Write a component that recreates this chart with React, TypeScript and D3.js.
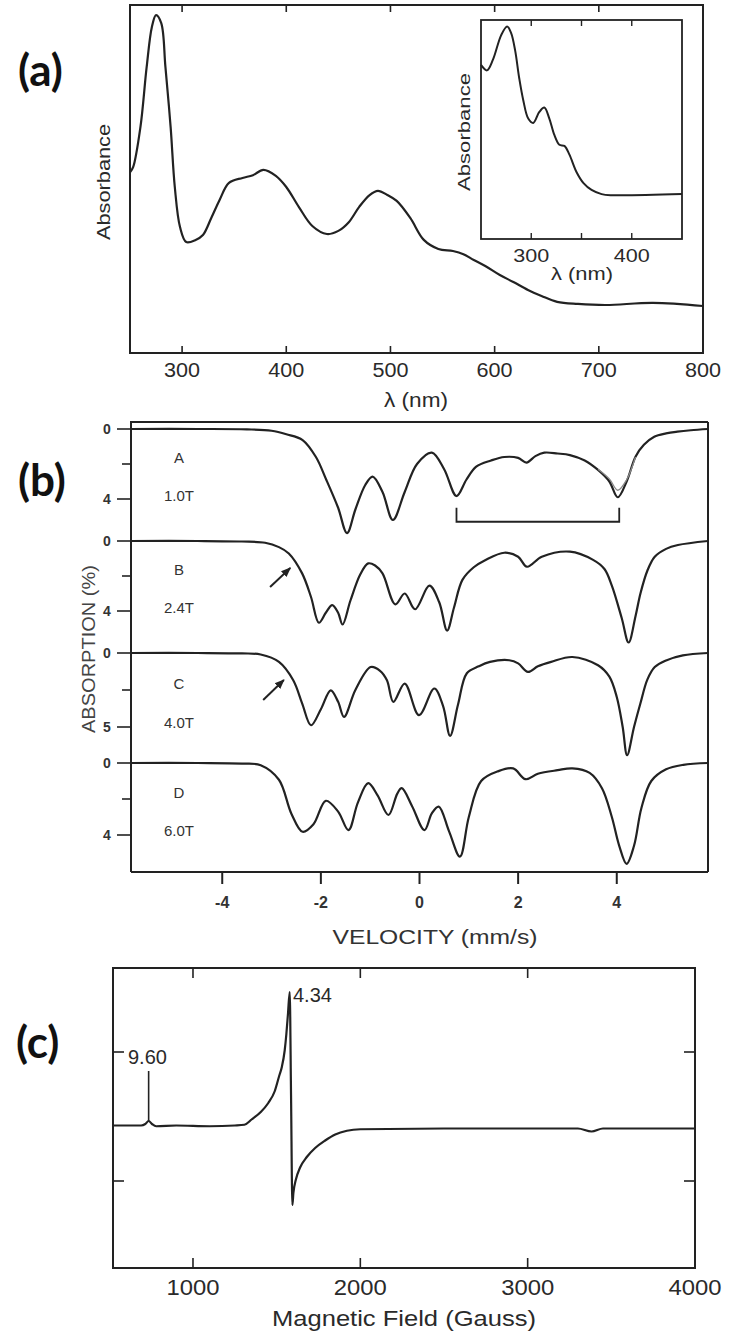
import * as d3 from "d3";

// ---- (a) UV-vis spectrum
const uvWl = [250, 253, 260, 266, 271, 275, 280, 284, 289, 293, 298, 304, 313, 320, 328, 336, 345, 358, 368, 378, 390, 400, 412, 425, 439, 450, 460, 470, 480, 488, 497, 506, 519, 532, 546, 560, 570, 580, 591, 605, 618, 632, 645, 660, 680, 707, 752, 800];
const uvAbs = [0.519, 0.534, 0.649, 0.822, 0.937, 0.971, 0.948, 0.822, 0.649, 0.477, 0.362, 0.319, 0.325, 0.339, 0.388, 0.44, 0.489, 0.503, 0.511, 0.526, 0.509, 0.477, 0.42, 0.365, 0.342, 0.351, 0.376, 0.42, 0.454, 0.466, 0.454, 0.437, 0.388, 0.325, 0.299, 0.293, 0.284, 0.267, 0.25, 0.224, 0.204, 0.181, 0.164, 0.147, 0.141, 0.138, 0.144, 0.135];
const uvTicks = [300, 400, 500, 600, 700, 800];

// inset
const insetWl = [250, 256, 262, 270, 276, 280, 284, 288, 292, 297, 302, 308, 313, 318, 323, 328, 333, 338, 345, 352, 360, 370, 380, 450];
const insetAbs = [0.795, 0.77, 0.82, 0.93, 0.97, 0.94, 0.86, 0.735, 0.635, 0.55, 0.53, 0.58, 0.6, 0.55, 0.475, 0.43, 0.425, 0.385, 0.306, 0.255, 0.224, 0.205, 0.2, 0.205];
const insetTicks = [300, 350, 400];
const insetLabels = [300, 400];

// ---- (b) Mossbauer spectra
const velA = [-5.85, -4.5, -3.5, -3.0, -2.7, -2.37, -2.1, -1.89, -1.65, -1.47, -1.3, -1.1, -0.95, -0.75, -0.54, -0.3, -0.05, 0.25, 0.5, 0.75, 0.95, 1.15, 1.45, 1.72, 2.0, 2.17, 2.35, 2.53, 2.8, 3.05, 3.35, 3.62, 3.85, 4.02, 4.2, 4.38, 4.55, 4.76, 5.0, 5.23, 5.5, 5.85];
const absA = [0, 0, 0.02, 0.1, 0.3, 0.63, 1.6, 2.9, 4.5, 5.95, 4.6, 3.2, 2.72, 3.6, 5.2, 3.6, 2.0, 1.35, 2.3, 3.83, 2.9, 2.15, 1.8, 1.6, 1.65, 1.92, 1.55, 1.35, 1.4, 1.49, 1.8, 2.34, 3.0, 3.9, 3.0, 1.58, 0.9, 0.44, 0.25, 0.15, 0.07, 0];
// fitted curve of A where it parts from the data
const fitVelA = [3.62, 3.85, 4.02, 4.2, 4.38];
const fitAbsA = [2.3, 2.85, 3.5, 2.9, 1.6];
const velB = [-5.85, -4.5, -3.6, -3.13, -2.85, -2.65, -2.38, -2.2, -2.04, -1.9, -1.77, -1.65, -1.56, -1.4, -1.2, -1.04, -0.9, -0.75, -0.49, -0.3, -0.09, 0.2, 0.4, 0.56, 0.7, 0.87, 1.1, 1.34, 1.72, 2.0, 2.18, 2.48, 3.05, 3.52, 3.75, 3.9, 4.1, 4.24, 4.38, 4.48, 4.62, 4.77, 5.0, 5.24, 5.85];
const absB = [0, 0, 0.03, 0.1, 0.35, 0.71, 1.85, 3.2, 4.67, 4.1, 3.66, 4.1, 4.77, 3.4, 1.9, 1.28, 1.4, 1.85, 3.62, 3.0, 3.9, 2.55, 3.5, 5.12, 3.8, 2.22, 1.5, 1.08, 0.67, 0.9, 1.47, 0.9, 0.61, 1.08, 1.6, 2.55, 4.4, 5.8, 4.3, 3.0, 1.7, 0.9, 0.45, 0.23, 0];
const velC = [-5.85, -4.5, -3.6, -3.22, -2.85, -2.56, -2.38, -2.2, -2.0, -1.8, -1.65, -1.53, -1.3, -0.99, -0.8, -0.66, -0.53, -0.3, -0.01, 0.3, 0.48, 0.62, 0.78, 0.96, 1.2, 1.43, 1.82, 2.0, 2.2, 2.4, 2.67, 3.1, 3.62, 3.85, 4.0, 4.12, 4.21, 4.35, 4.48, 4.62, 4.77, 5.0, 5.34, 5.85];
const absC = [0, 0, 0.03, 0.1, 0.6, 1.84, 3.4, 4.88, 3.8, 2.52, 3.3, 4.32, 2.5, 0.95, 1.2, 1.84, 3.3, 2.07, 4.2, 2.4, 3.6, 5.6, 3.5, 1.37, 0.9, 0.6, 0.49, 0.7, 1.28, 0.9, 0.6, 0.27, 0.83, 1.6, 2.97, 5.0, 6.9, 5.0, 3.4, 1.8, 0.95, 0.5, 0.16, 0];
const velD = [-5.85, -4.5, -3.6, -3.22, -2.85, -2.6, -2.37, -2.15, -1.9, -1.65, -1.44, -1.25, -1.04, -0.85, -0.63, -0.45, -0.36, -0.15, 0.1, 0.25, 0.39, 0.6, 0.82, 1.0, 1.25, 1.6, 1.9, 2.15, 2.4, 2.8, 3.1, 3.45, 3.7, 3.9, 4.05, 4.2, 4.35, 4.5, 4.7, 5.0, 5.35, 5.85];
const absD = [0, 0, 0.03, 0.12, 0.93, 2.8, 3.82, 3.4, 2.1, 2.7, 3.73, 2.2, 1.12, 1.8, 2.89, 1.7, 1.4, 2.4, 3.73, 2.8, 2.42, 3.8, 5.2, 3.0, 1.0, 0.45, 0.3, 0.9, 0.6, 0.4, 0.3, 0.55, 1.4, 3.0, 4.6, 5.6, 4.6, 2.5, 1.0, 0.35, 0.1, 0];
const spectraNames = ["A", "B", "C", "D"];
const spectraFields = ["1.0T", "2.4T", "4.0T", "6.0T"];
const spectraMax = [4, 4, 5, 4];
const velTicks = [-4, -2, 0, 2, 4];

// ---- (c) EPR
const eprField = [522, 600, 690, 715, 735, 755, 780, 900, 1100, 1250, 1307, 1350, 1405, 1450, 1489, 1515, 1531, 1548, 1558, 1568, 1578, 1586, 1594, 1600, 1615, 1640, 1680, 1730, 1790, 1850, 1920, 2000, 2500, 3000, 3300, 3382, 3450, 4000];
const eprSignal = [0, 0, 0, 0.01, 0.03, 0.01, -0.005, 0, -0.005, 0, 0.005, 0.04, 0.09, 0.15, 0.23, 0.33, 0.39, 0.5, 0.61, 0.75, 0.89, 0.2, -0.53, -0.45, -0.36, -0.28, -0.21, -0.15, -0.1, -0.06, -0.035, -0.025, -0.02, -0.02, -0.02, -0.04, -0.02, -0.02];
const eprTicks = [1000, 2000, 3000, 4000];
const eprSideTicks = [0.49, -0.37];

const INK = "#222";
const TXT = "#2a2a2a";
const SANS = "'Liberation Sans', Arial, sans-serif";
const PANEL = "Lato, 'Open Sans', sans-serif";

export default function App() {
    const width = 730;
    const height = 1335;

    // (a)
    const ax = d3.scaleLinear().domain([250, 800]).range([130, 703]);
    const ay = d3.scaleLinear().domain([0, 1]).range([353, 5]);
    const uvLine = d3.line<number>()
        .x((_d, i) => ax(uvWl[i]))
        .y(d => ay(d))
        .curve(d3.curveCatmullRom.alpha(0.5));

    const ix = d3.scaleLinear().domain([250, 450]).range([481, 682]);
    const iy = d3.scaleLinear().domain([0, 1]).range([239, 20]);
    const insetLine = d3.line<number>()
        .x((_d, i) => ix(insetWl[i]))
        .y(d => iy(d))
        .curve(d3.curveCatmullRom.alpha(0.5));

    // (b)
    const mx = d3.scaleLinear().domain([-5.85, 5.85]).range([131, 708]);
    const my = [
        d3.scaleLinear().domain([0, 4]).range([429, 499]),
        d3.scaleLinear().domain([0, 4]).range([541, 611]),
        d3.scaleLinear().domain([0, 5]).range([653, 727]),
        d3.scaleLinear().domain([0, 4]).range([763, 835]),
    ];
    const vels = [velA, velB, velC, velD];
    const abss = [absA, absB, absC, absD];
    const mLines = abss.map((a, k) =>
        d3.line<number>()
            .x((_d, i) => mx(vels[k][i]))
            .y(d => my[k](d))
            .curve(d3.curveCatmullRom.alpha(0.5))(a)
    );
    const fitLine = d3.line<number>()
        .x((_d, i) => mx(fitVelA[i]))
        .y(d => my[0](d))
        .curve(d3.curveCatmullRom.alpha(0.5))(fitAbsA);

    // (c)
    const ex = d3.scaleLinear().domain([522, 4000]).range([113, 695]);
    const ey = d3.scaleLinear().domain([-0.95, 1.05]).range([1268, 968]);
    const eprLine = d3.line<number>()
        .x((_d, i) => ex(eprField[i]))
        .y(d => ey(d))
        .curve(d3.curveMonotoneX);

    return (
        <svg width={width} height={height} style={{ position: "absolute", left: 0, top: 0, background: "#fff" }}>
            <defs>
                <marker id="arr" viewBox="0 0 10 10" refX="9" refY="5" markerWidth="5" markerHeight="5" orient="auto">
                    <path d="M0,1 L10,5 L0,9 Z" fill={INK} />
                </marker>
            </defs>

            {/* panel labels */}
            <g fontFamily={PANEL} fontWeight={700} fontSize={44} fill="#111">
                <text x={18} y={86}>(a)</text>
                <text x={18} y={496}>(b)</text>
                <text x={16} y={1058}>(c)</text>
            </g>

            {/* ---------- (a) ---------- */}
            <rect x={130} y={5} width={573} height={348} fill="none" stroke={INK} strokeWidth={2} />
            {uvTicks.slice(0, -1).map(t => (
                <g key={t} stroke={INK} strokeWidth={1.6}>
                    <line x1={ax(t)} x2={ax(t)} y1={353} y2={346} />
                    <line x1={ax(t)} x2={ax(t)} y1={5} y2={12} />
                </g>
            ))}
            <g fontFamily={SANS} fontSize={20} fill={TXT} textAnchor="middle">
                {uvTicks.map(t => (
                    <text key={t} x={ax(t)} y={377} textLength={36} lengthAdjust="spacingAndGlyphs">{t}</text>
                ))}
                <text x={416} y={407} textLength={64} lengthAdjust="spacingAndGlyphs">λ (nm)</text>
                <text transform={`translate(110,182) rotate(-90)`} fontSize={18} textLength={116} lengthAdjust="spacingAndGlyphs">Absorbance</text>
            </g>
            <path d={uvLine(uvAbs) ?? ""} fill="none" stroke={INK} strokeWidth={2.2} />

            {/* inset */}
            <rect x={481} y={20} width={201} height={219} fill="#fff" stroke={INK} strokeWidth={1.8} />
            {insetTicks.map(t => (
                <g key={t} stroke={INK} strokeWidth={1.4}>
                    <line x1={ix(t)} x2={ix(t)} y1={239} y2={233} />
                    <line x1={ix(t)} x2={ix(t)} y1={20} y2={26} />
                </g>
            ))}
            <g fontFamily={SANS} fontSize={19} fill={TXT} textAnchor="middle">
                {insetLabels.map(t => (
                    <text key={t} x={ix(t)} y={262} textLength={36} lengthAdjust="spacingAndGlyphs">{t}</text>
                ))}
                <text x={582} y={280} fontSize={18} textLength={62} lengthAdjust="spacingAndGlyphs">λ (nm)</text>
                <text transform={`translate(470,132) rotate(-90)`} fontSize={17} textLength={118} lengthAdjust="spacingAndGlyphs">Absorbance</text>
            </g>
            <path d={insetLine(insetAbs) ?? ""} fill="none" stroke={INK} strokeWidth={2} />

            {/* ---------- (b) ---------- */}
            <line x1={130} x2={708} y1={422} y2={422} stroke={INK} strokeWidth={2.2} />
            <line x1={131} x2={131} y1={422} y2={872} stroke={INK} strokeWidth={2} />
            <line x1={708} x2={708} y1={422} y2={872} stroke={INK} strokeWidth={2} />
            <line x1={131} x2={708} y1={872} y2={872} stroke={INK} strokeWidth={2} />
            {velTicks.map(t => (
                <line key={t} x1={mx(t)} x2={mx(t)} y1={872} y2={884} stroke={INK} strokeWidth={2} />
            ))}
            <g fontFamily={SANS} fontSize={16} fontWeight={700} fill="#333" textAnchor="middle">
                {velTicks.map(t => (
                    <text key={t} x={mx(t)} y={908}>{t}</text>
                ))}
            </g>
            {my.map((s, k) => (
                <g key={k}>
                    {[0, spectraMax[k] / 2, spectraMax[k]].map((t, j) => (
                        <line key={j} x1={j === 1 ? 122 : 117} x2={131} y1={s(t)} y2={s(t)} stroke={INK} strokeWidth={1.6} />
                    ))}
                    {[0, spectraMax[k]].map(t => (
                        <text key={t} x={107} y={s(t) + 5} fontFamily={SANS} fontSize={14} fontWeight={700} fill="#333" textAnchor="middle">{t}</text>
                    ))}
                    <text x={179} y={s(spectraMax[k] * 0.4) + 6} fontFamily={SANS} fontSize={15} fill="#333" textAnchor="middle">{spectraNames[k]}</text>
                    <text x={179} y={s(spectraMax[k] * 0.95) + 5} fontFamily={SANS} fontSize={15} fill="#333" textAnchor="middle">{spectraFields[k]}</text>
                    <path d={mLines[k] ?? ""} fill="none" stroke={INK} strokeWidth={2.2} />
                </g>
            ))}
            <path d={fitLine ?? ""} fill="none" stroke="#888" strokeWidth={1.3} />
            {/* bracket under A */}
            <path
                d={`M${mx(0.75)},${my[0](4.5)} V${my[0](5.3)} H${mx(4.05)} V${my[0](4.5)}`}
                fill="none" stroke={INK} strokeWidth={1.8}
            />
            {/* arrows B, C */}
            <line x1={mx(-3.03)} y1={my[1](2.63)} x2={mx(-2.62)} y2={my[1](1.54)} stroke={INK} strokeWidth={2} markerEnd="url(#arr)" />
            <line x1={mx(-3.17)} y1={my[2](3.18)} x2={mx(-2.75)} y2={my[2](1.82)} stroke={INK} strokeWidth={2} markerEnd="url(#arr)" />
            <text transform={`translate(95,649) rotate(-90)`} fontFamily={SANS} fontSize={19} fill="#444" textAnchor="middle" textLength={168} lengthAdjust="spacingAndGlyphs">ABSORPTION (%)</text>
            <text x={435} y={944} fontFamily={SANS} fontSize={21} fill="#333" textAnchor="middle" textLength={205} lengthAdjust="spacingAndGlyphs">VELOCITY (mm/s)</text>

            {/* ---------- (c) ---------- */}
            <rect x={113} y={968} width={582} height={300} fill="none" stroke={INK} strokeWidth={2} />
            {eprTicks.slice(0, -1).map(t => (
                <g key={t} stroke={INK} strokeWidth={1.6}>
                    <line x1={ex(t)} x2={ex(t)} y1={1268} y2={1258} />
                    <line x1={ex(t)} x2={ex(t)} y1={968} y2={978} />
                </g>
            ))}
            {eprSideTicks.map(t => (
                <g key={t} stroke={INK} strokeWidth={1.6}>
                    <line x1={113} x2={124} y1={ey(t)} y2={ey(t)} />
                    <line x1={695} x2={684} y1={ey(t)} y2={ey(t)} />
                </g>
            ))}
            <g fontFamily={SANS} fontSize={22} fill={TXT} textAnchor="middle">
                {eprTicks.map(t => (
                    <text key={t} x={ex(t)} y={1295} textLength={53} lengthAdjust="spacingAndGlyphs">{t}</text>
                ))}
                <text x={404} y={1326} textLength={264} lengthAdjust="spacingAndGlyphs">Magnetic Field (Gauss)</text>
            </g>
            <path d={eprLine(eprSignal) ?? ""} fill="none" stroke={INK} strokeWidth={2.2} />
            <line x1={ex(735)} x2={ex(735)} y1={1071} y2={ey(0.03)} stroke={INK} strokeWidth={1.6} />
            <g fontFamily={SANS} fontSize={20} fill={TXT}>
                <text x={128} y={1064}>9.60</text>
                <text x={293} y={1002}>4.34</text>
            </g>
        </svg>
    );
}
